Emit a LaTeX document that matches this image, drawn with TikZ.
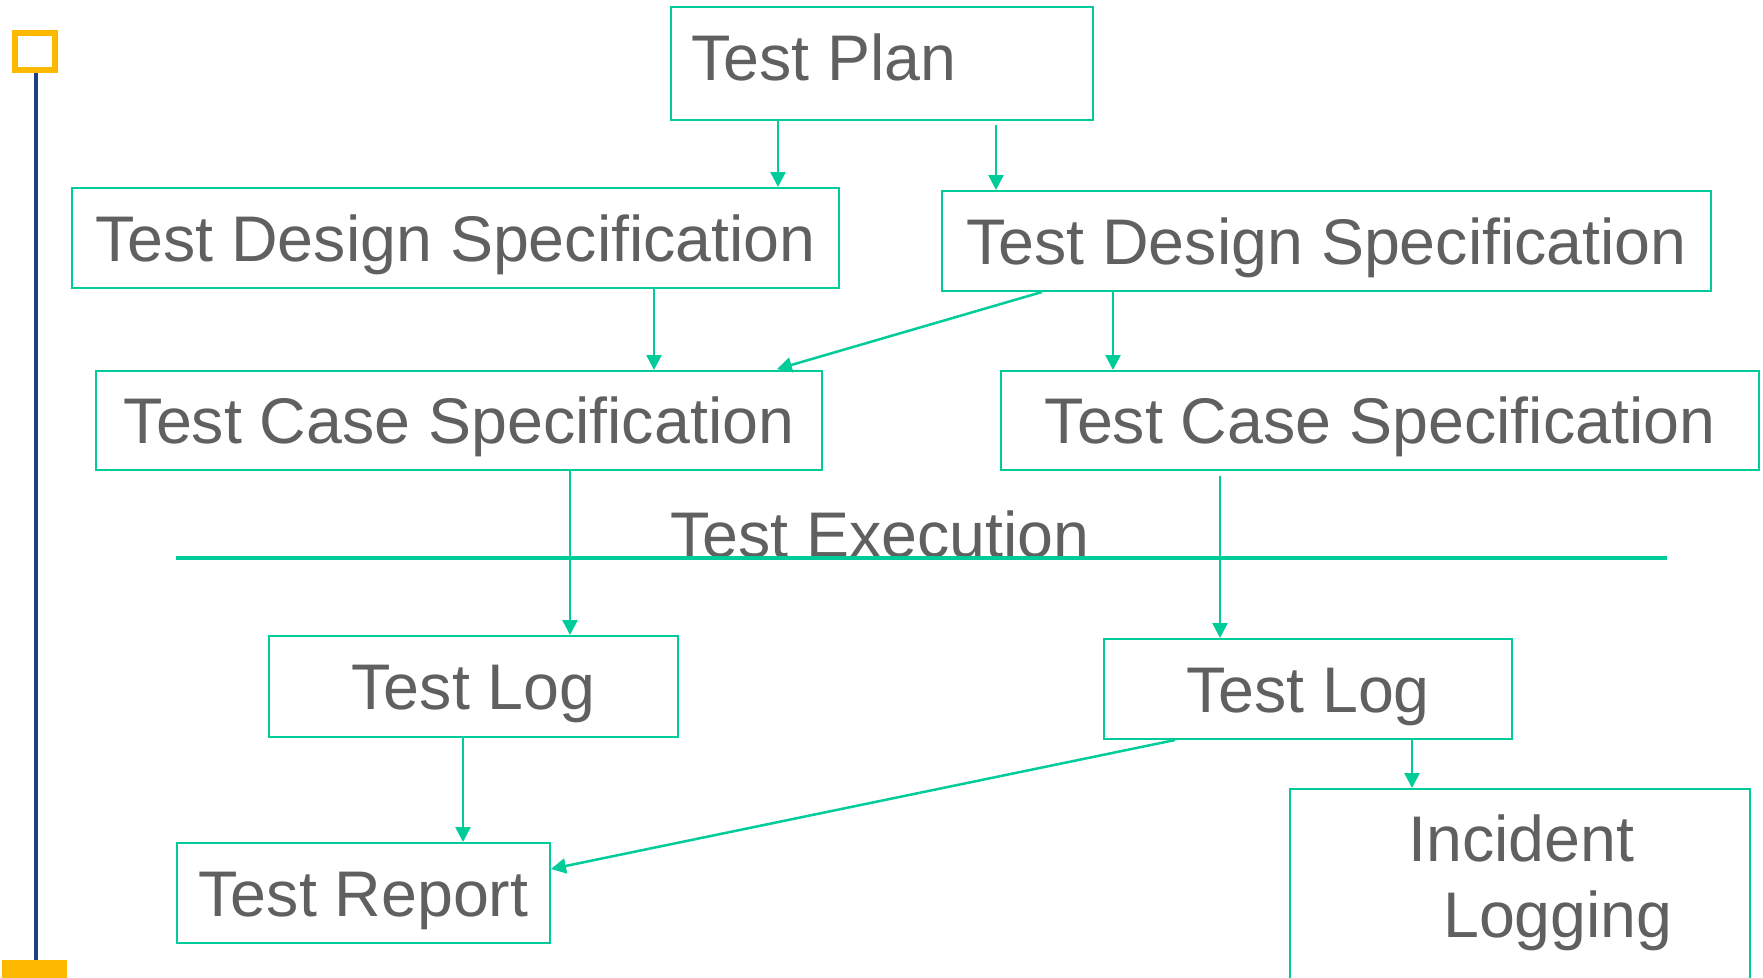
\documentclass[tikz,border=0pt]{standalone}
\usepackage{fontspec}
\setmainfont{Liberation Sans}
\usetikzlibrary{arrows.meta}
\definecolor{flowgreen}{RGB}{0,204,153}
\definecolor{textgray}{RGB}{96,96,96}
\definecolor{markyellow}{RGB}{252,185,0}
\definecolor{barblue}{RGB}{28,64,128}
\begin{document}
\begin{tikzpicture}[x=1pt,y=-1pt,
  docbox/.style={draw=flowgreen,line width=2pt,inner sep=0pt,text=textgray,
    font=\fontsize{64.5}{76}\selectfont,text height=46.5pt,text depth=0pt},
  doctext/.style={inner sep=0pt,text=textgray,font=\fontsize{64.5}{76}\selectfont},
  flow/.style={draw=flowgreen,line width=2.5pt,-{Triangle[length=15pt,width=15pt]}}]
\useasboundingbox (0,0) rectangle (1763,977);

% Side bar
\draw[markyellow,line width=6pt] (15,33) rectangle (55,70);
\draw[barblue,line width=4pt] (35.5,73) -- (35.5,960);
\fill[markyellow] (2,960) rectangle (67,980);

% Plan
\node[docbox,minimum width=422,minimum height=113] (plan) at (882,63.5) {};
\node[doctext,anchor=base west] (plantext) at (691,80) {Test Plan};

% Design
\node[docbox,minimum width=767,minimum height=100] (tds1) at (455.5,238) {Test Design Specification};
\node[docbox,minimum width=769,minimum height=100] (tds2) at (1326.5,241) {Test Design Specification};

% Cases
\node[docbox,minimum width=726,minimum height=99] (tcs1) at (459,420.5) {Test Case Specification};
\node[docbox,minimum width=758,minimum height=99] (tcs2) at (1380,420.5) {Test Case Specification};

% Execution
\node[doctext,anchor=base] (exec) at (880,557) {Test Execution};
\coordinate (execL) at (176,558);
\coordinate (execR) at (1667,558);
\draw[flowgreen,line width=4pt] (execL) -- (execR);

% Logs
\node[docbox,minimum width=409,minimum height=101] (tl1) at (473.5,686.5) {Test Log};
\node[docbox,minimum width=408,minimum height=100] (tl2) at (1308,689) {Test Log};

% Report and incidents
\node[docbox,minimum width=373,minimum height=100] (tr) at (363.5,893) {Test Report};
\node[docbox,minimum width=460,minimum height=230] (il) at (1520,904) {};
\node[doctext,anchor=base west] (iltext1) at (1408,861) {Incident};
\node[doctext,anchor=base west] (iltext2) at (1443,937) {Logging};

% Arrows
\draw[flow] (plan.south -| 778,0) -- (tds1.north -| 778,0);
\draw[flow,shorten <=4pt] (plan.south -| 996,0) -- (tds2.north -| 996,0);
\draw[flow] (tds1.south -| 654,0) -- (tcs1.north -| 654,0);
\draw[flow,shorten >=3pt] (tds2.south -| 1042,0) -- (tcs1.north -| 774,0);
\draw[flow] (tds2.south -| 1113,0) -- (tcs2.north -| 1113,0);
\draw[flow] (tcs1.south -| 570,0) -- (tl1.north -| 570,0);
\draw[flow,shorten <=5pt] (tcs2.south -| 1220,0) -- (tl2.north -| 1220,0);
\draw[flow] (tl1.south -| 463,0) -- (tr.north -| 463,0);
\draw[flow] (tl2.south -| 1175,0) -- (tr.east |- 0,869);
\draw[flow] (tl2.south -| 1412,0) -- (il.north -| 1412,0);
\end{tikzpicture}
\end{document}
